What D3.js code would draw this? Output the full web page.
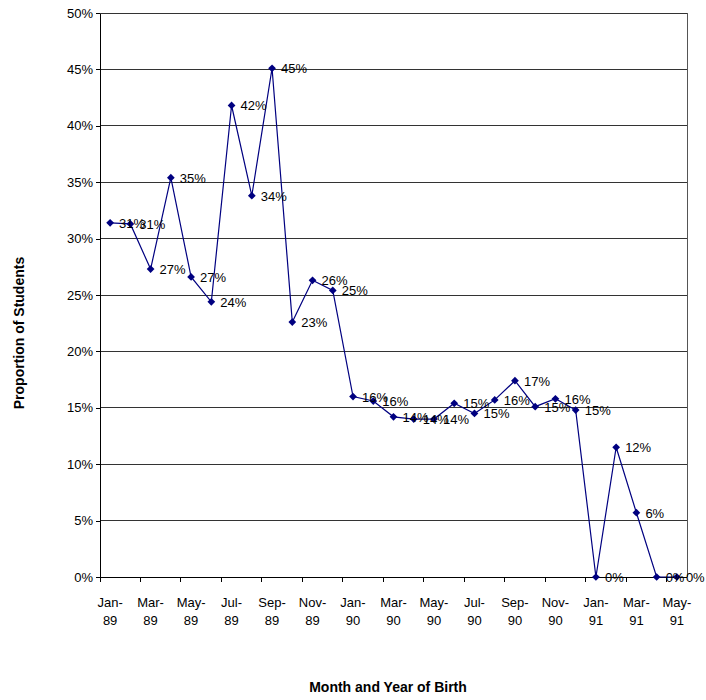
<!DOCTYPE html>
<html><head><meta charset="utf-8">
<script src="https://cdn.jsdelivr.net/npm/d3@7"></script>
<style>body{margin:0;background:#fff}svg{display:block}text{font-family:"Liberation Sans",Arial,sans-serif}</style>
</head><body><svg id="c" width="706" height="700"></svg>
<script>
const months = ["Jan-89","Feb-89","Mar-89","Apr-89","May-89","Jun-89","Jul-89","Aug-89","Sep-89","Oct-89","Nov-89","Dec-89",
"Jan-90","Feb-90","Mar-90","Apr-90","May-90","Jun-90","Jul-90","Aug-90","Sep-90","Oct-90","Nov-90","Dec-90",
"Jan-91","Feb-91","Mar-91","Apr-91","May-91"];
const values = [31.4,31.3,27.3,35.4,26.6,24.4,41.8,33.8,45.1,22.6,26.3,25.4,
16.0,15.6,14.2,14.0,14.0,15.4,14.5,15.7,17.4,15.1,15.8,14.8,
0,11.5,5.7,0,0];
const yTicks = [0,5,10,15,20,25,30,35,40,45,50];
const yTitle = "Proportion of Students";
const xTitle = "Month and Year of Birth";

const svg = d3.select("#c");
const L=100,R=687,T=13,B=577;
const x = d3.scaleBand().domain(months).range([L,R]);
const y = d3.scaleLinear().domain([0,50]).range([B,T]);

// gridlines
svg.append("g").selectAll("line").data(yTicks.filter(d=>d>0)).join("line")
  .attr("x1",L).attr("x2",R).attr("y1",d=>y(d)).attr("y2",d=>y(d))
  .attr("stroke","#333").attr("stroke-width",1).attr("shape-rendering","crispEdges");
// right border
svg.append("line").attr("x1",R).attr("x2",R).attr("y1",T).attr("y2",B)
  .attr("stroke","#555").attr("shape-rendering","crispEdges");

// y axis
const ya = svg.append("g").attr("transform",`translate(${L},0)`)
  .call(d3.axisLeft(y).tickValues(yTicks).tickFormat(d=>d+"%").tickSize(4).tickSizeOuter(0));
ya.select(".domain").attr("stroke","#000").attr("shape-rendering","crispEdges");
ya.selectAll(".tick line").attr("stroke","#000").attr("shape-rendering","crispEdges");
ya.selectAll("text").attr("font-size",13).attr("fill","#000").attr("x",-7);

// x axis
const bw = x.step();
const xa = svg.append("g").attr("transform",`translate(0,${B})`);
xa.append("line").attr("x1",L).attr("x2",R).attr("stroke","#000").attr("shape-rendering","crispEdges");
const tickIdx = d3.range(0,months.length,2);
xa.selectAll("line.t").data(tickIdx).join("line").attr("class","t")
  .attr("x1",i=>x(months[i])).attr("x2",i=>x(months[i])).attr("y1",0).attr("y2",5)
  .attr("stroke","#000").attr("shape-rendering","crispEdges");
const lab = xa.selectAll("text").data(tickIdx).join("text")
  .attr("text-anchor","middle").attr("font-size",13).attr("fill","#000");
lab.append("tspan").attr("x",i=>x(months[i])+bw/2).attr("y",30).text(i=>months[i].split("-")[0]+"-");
lab.append("tspan").attr("x",i=>x(months[i])+bw/2).attr("y",48).text(i=>months[i].split("-")[1]);

// line
const cx = (d,i)=>x(months[i])+bw/2;
svg.append("path").datum(values)
  .attr("d",d3.line().x(cx).y(d=>y(d)))
  .attr("fill","none").attr("stroke","#000080").attr("stroke-width",1.2);
svg.append("g").selectAll("path").data(values).join("path")
  .attr("d",d3.symbol(d3.symbolSquare,30)())
  .attr("transform",(d,i)=>`translate(${cx(d,i)},${y(d)}) rotate(45)`)
  .attr("fill","#000080");
svg.append("g").selectAll("text").data(values).join("text")
  .attr("x",(d,i)=>cx(d,i)+9).attr("y",d=>y(d)+5)
  .attr("font-size",13).attr("fill","#000")
  .text(d=>Math.round(d)+"%");

// titles
svg.append("text").attr("transform","translate(24,333) rotate(-90)")
  .attr("text-anchor","middle").attr("font-size",14).attr("font-weight","bold").text(yTitle);
svg.append("text").attr("x",388).attr("y",692)
  .attr("text-anchor","middle").attr("font-size",14).attr("font-weight","bold").text(xTitle);
</script></body></html>
